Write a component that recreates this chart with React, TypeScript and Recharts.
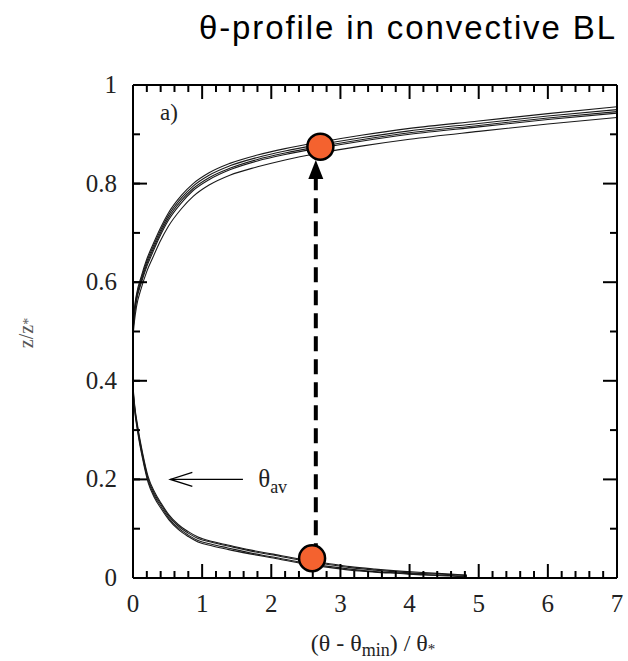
import React from "react";
import {
  ComposedChart,
  Line,
  Scatter,
  XAxis,
  YAxis,
  ReferenceLine,
  ReferenceDot,
} from "recharts";

// axis ticks
const X_MAJOR = [0, 1, 2, 3, 4, 5, 6, 7];
const X_TICKS = X_MAJOR.flatMap((m) => (m < 7 ? [m, m + 0.2, m + 0.4, m + 0.6, m + 0.8] : [m]));
const Y_TICKS = [0, 0.1, 0.2, 0.3, 0.4, 0.5, 0.6, 0.7, 0.8, 0.9, 1];
const Y_LABELS: Record<string, string> = { "0": "0", "2": "0.2", "4": "0.4", "6": "0.6", "8": "0.8", "10": "1" };

// upper branch (entrainment zone), five runs
const UPPER_X = [0, 0.02, 0.05, 0.12, 0.2, 0.29, 0.39, 0.51, 0.7, 0.87, 1.1, 1.4, 1.8, 2.2, 2.7, 3.3, 4.0, 5.0, 6.0, 7.0];
const UPPER_1 = [0.5, 0.545, 0.575, 0.612, 0.647, 0.677, 0.708, 0.74, 0.776, 0.8, 0.822, 0.841, 0.858, 0.871, 0.884, 0.898, 0.912, 0.927, 0.942, 0.956];
const UPPER_2 = [0.5, 0.54, 0.57, 0.607, 0.642, 0.672, 0.703, 0.735, 0.771, 0.795, 0.817, 0.836, 0.853, 0.866, 0.879, 0.893, 0.907, 0.922, 0.937, 0.95];
const UPPER_3 = [0.5, 0.535, 0.566, 0.602, 0.637, 0.667, 0.698, 0.73, 0.766, 0.79, 0.812, 0.831, 0.849, 0.862, 0.875, 0.889, 0.903, 0.918, 0.933, 0.946];
const UPPER_4 = [0.5, 0.532, 0.562, 0.598, 0.632, 0.662, 0.693, 0.725, 0.761, 0.786, 0.808, 0.828, 0.846, 0.859, 0.872, 0.886, 0.9, 0.915, 0.93, 0.943];
const UPPER_5 = [0.49, 0.52, 0.55, 0.588, 0.622, 0.651, 0.682, 0.713, 0.749, 0.774, 0.797, 0.817, 0.834, 0.848, 0.862, 0.876, 0.89, 0.906, 0.921, 0.934];

// lower branch (surface layer), four runs
const LOWER_X = [0, 0.02, 0.07, 0.14, 0.22, 0.31, 0.41, 0.52, 0.65, 0.8, 0.94, 1.15, 1.37, 1.69, 2.0, 2.42, 2.8, 3.14, 3.5, 3.86, 4.2, 4.59, 4.83];
const LOWER_1 = [0.39, 0.356, 0.306, 0.253, 0.205, 0.175, 0.151, 0.128, 0.109, 0.094, 0.083, 0.074, 0.067, 0.057, 0.049, 0.038, 0.03, 0.023, 0.018, 0.014, 0.011, 0.008, 0.006];
const LOWER_2 = [0.385, 0.352, 0.302, 0.249, 0.201, 0.171, 0.148, 0.125, 0.106, 0.091, 0.08, 0.072, 0.065, 0.055, 0.047, 0.036, 0.028, 0.021, 0.016, 0.012, 0.009, 0.007, 0.005];
const LOWER_3 = [0.38, 0.348, 0.298, 0.245, 0.197, 0.167, 0.144, 0.121, 0.102, 0.087, 0.076, 0.068, 0.061, 0.051, 0.043, 0.032, 0.024, 0.018, 0.013, 0.01, 0.007, 0.005, 0.003];
const LOWER_4 = [0.375, 0.344, 0.294, 0.241, 0.193, 0.163, 0.14, 0.118, 0.099, 0.084, 0.073, 0.065, 0.058, 0.049, 0.041, 0.03, 0.022, 0.016, 0.012, 0.009, 0.006, 0.004, 0.002];

// orange markers and the dashed arrow between them
const MARKER_X = [2.71, 2.59];
const MARKER_Z = [0.875, 0.04];
const ARROW_X = 2.644;
const ARROW_FROM = 0.04;
const ARROW_TO = 0.848;

const toPoints = (xs: number[], zs: number[]) => xs.map((x, i) => ({ x, z: zs[i] }));

const UPPER = [UPPER_1, UPPER_2, UPPER_3, UPPER_4, UPPER_5].map((zs) => toPoints(UPPER_X, zs));
const LOWER = [LOWER_1, LOWER_2, LOWER_3, LOWER_4].map((zs) => toPoints(LOWER_X, zs));
const MARKERS = toPoints(MARKER_X, MARKER_Z);

const SERIF = "'Liberation Serif', 'Times New Roman', serif";
const LABEL_COLOR = "#222";

const isXMajor = (v: number) => Math.abs(v - Math.round(v)) < 1e-6;
const isYMajor = (v: number) => Math.round(v * 10) % 2 === 0;

function BottomTick(props: any) {
  const { x, y, payload } = props;
  const major = isXMajor(payload.value);
  return (
    <g>
      <path d={`M ${x} ${y} V ${y - (major ? 14 : 7)}`} stroke="#000" strokeWidth={2} />
      {major && (
        <text x={x} y={y + 34} textAnchor="middle" fontFamily={SERIF} fontSize={25} fill={LABEL_COLOR}>
          {Math.round(payload.value)}
        </text>
      )}
    </g>
  );
}

function TopTick(props: any) {
  const { x, y, payload } = props;
  const major = isXMajor(payload.value);
  return <path d={`M ${x} ${y} V ${y + (major ? 14 : 7)}`} stroke="#000" strokeWidth={2} />;
}

// left side: the axis draws the short inward tick itself, this adds the long one and the label
function LeftTick(props: any) {
  const { x, y, payload } = props;
  const major = isYMajor(payload.value);
  const label = Y_LABELS[String(Math.round(payload.value * 10))];
  if (!major) return <g />;
  return (
    <g>
      <path d={`M ${x} ${y} H ${x + 14}`} stroke="#000" strokeWidth={2} />
      {label && (
        <text x={x - 16} y={y + 8} textAnchor="end" fontFamily={SERIF} fontSize={25} fill={LABEL_COLOR}>
          {label}
        </text>
      )}
    </g>
  );
}

function RightTick(props: any) {
  const { x, y, payload } = props;
  const major = isYMajor(payload.value);
  return <path d={`M ${x} ${y} H ${x - (major ? 14 : 7)}`} stroke="#000" strokeWidth={2} />;
}

const Marker = (p: any) => (
  <circle cx={p.cx} cy={p.cy} r={13} fill="#f4622f" stroke="#000" strokeWidth={2.5} />
);

export default function App() {
  return (
    <div style={{ position: "absolute", left: 0, top: 0, width: 628, height: 661, background: "#fff" }}>
      <div
        style={{
          position: "absolute",
          right: 11,
          top: 11,
          fontFamily: "'Liberation Sans', Arial, sans-serif",
          fontSize: 33,
          lineHeight: "33px",
          letterSpacing: 1.9,
          color: "#000",
          whiteSpace: "nowrap",
        }}
      >
        θ-profile in convective BL
      </div>

      <ComposedChart
        width={628}
        height={661}
        margin={{ top: 75, right: 1, bottom: 33, left: 73 }}
        style={{ position: "absolute", left: 0, top: 0 }}
      >
        <XAxis
          dataKey="x"
          type="number"
          domain={[0, 7]}
          ticks={X_TICKS}
          interval={0}
          allowDataOverflow
          height={50}
          tickSize={0}
          tickMargin={0}
          tickLine={false}
          axisLine={{ stroke: "#000", strokeWidth: 2 }}
          tick={<BottomTick />}
        />
        <XAxis
          xAxisId="top"
          orientation="top"
          dataKey="x"
          type="number"
          domain={[0, 7]}
          ticks={X_TICKS}
          interval={0}
          allowDataOverflow
          height={10}
          tickSize={0}
          tickMargin={0}
          tickLine={false}
          axisLine={{ stroke: "#000", strokeWidth: 2 }}
          tick={<TopTick />}
        />
        <YAxis
          type="number"
          domain={[0, 1]}
          ticks={Y_TICKS}
          interval={0}
          allowDataOverflow
          width={60}
          tickSize={-7}
          tickMargin={7}
          tickLine={{ stroke: "#000", strokeWidth: 2 }}
          axisLine={{ stroke: "#000", strokeWidth: 2 }}
          tick={<LeftTick />}
        />
        <YAxis
          yAxisId="right"
          orientation="right"
          type="number"
          domain={[0, 1]}
          ticks={Y_TICKS}
          interval={0}
          allowDataOverflow
          width={10}
          tickSize={0}
          tickMargin={0}
          tickLine={false}
          axisLine={{ stroke: "#000", strokeWidth: 2 }}
          tick={<RightTick />}
        />

        {UPPER.map((d, i) => (
          <Line
            key={"u" + i}
            data={d}
            dataKey="z"
            type="monotone"
            stroke="#1a1a1a"
            strokeWidth={1.1}
            dot={false}
            isAnimationActive={false}
          />
        ))}
        {LOWER.map((d, i) => (
          <Line
            key={"l" + i}
            data={d}
            dataKey="z"
            type="monotone"
            stroke="#1a1a1a"
            strokeWidth={1.1}
            dot={false}
            isAnimationActive={false}
          />
        ))}

        {/* markers sit on the mirrored top/right axes (same domains) so those axes draw their ticks */}
        <Scatter
          data={MARKERS}
          dataKey="z"
          xAxisId="top"
          yAxisId="right"
          shape={Marker}
          isAnimationActive={false}
        />

        <ReferenceLine
          segment={[
            { x: ARROW_X, y: ARROW_FROM },
            { x: ARROW_X, y: ARROW_TO - 0.036 },
          ]}
          stroke="#000"
          strokeWidth={4}
          strokeDasharray="15 8"
        />
        <ReferenceDot
          x={ARROW_X}
          y={ARROW_TO}
          r={0}
          shape={(p: any) => (
            <polygon
              points={`${p.cx},${p.cy} ${p.cx - 7.5},${p.cy + 19} ${p.cx + 7.5},${p.cy + 19}`}
              fill="#000"
            />
          )}
        />

        {/* theta_av pointer */}
        <ReferenceLine
          segment={[
            { x: 1.59, y: 0.2 },
            { x: 0.54, y: 0.2 },
          ]}
          stroke="#000"
          strokeWidth={1.3}
        />
        <ReferenceDot
          x={0.54}
          y={0.2}
          r={0}
          shape={(p: any) => (
            <path
              d={`M ${p.cx + 22} ${p.cy - 7} L ${p.cx} ${p.cy} L ${p.cx + 22} ${p.cy + 7}`}
              fill="none"
              stroke="#000"
              strokeWidth={1.3}
            />
          )}
        />
        <ReferenceDot
          x={1.81}
          y={0.185}
          r={0}
          shape={(p: any) => (
            <text x={p.cx} y={p.cy} fontFamily={SERIF} fontSize={25} fill={LABEL_COLOR}>
              θ
              <tspan fontSize={18} dy={6}>
                av
              </tspan>
            </text>
          )}
        />
        <ReferenceDot
          x={0.39}
          y={0.929}
          r={0}
          shape={(p: any) => (
            <text x={p.cx} y={p.cy} fontFamily={SERIF} fontSize={23} fill={LABEL_COLOR}>
              a)
            </text>
          )}
        />
      </ComposedChart>

      <div
        style={{
          position: "absolute",
          left: 0,
          width: 746,
          top: 630,
          textAlign: "center",
          fontFamily: SERIF,
          fontSize: 24,
          lineHeight: "26px",
          color: LABEL_COLOR,
          whiteSpace: "nowrap",
        }}
      >
        (θ - θ<span style={{ fontSize: 18, position: "relative", top: 5 }}>min</span>) / θ
        <span style={{ fontSize: 15, position: "relative", top: 3 }}>*</span>
      </div>

      <div
        style={{
          position: "absolute",
          left: 26,
          top: 333,
          transform: "translate(-50%, -50%) rotate(-90deg)",
          fontFamily: SERIF,
          fontSize: 20,
          color: "#555",
          whiteSpace: "nowrap",
        }}
      >
        z/z<span style={{ fontSize: 14 }}>*</span>
      </div>
    </div>
  );
}
